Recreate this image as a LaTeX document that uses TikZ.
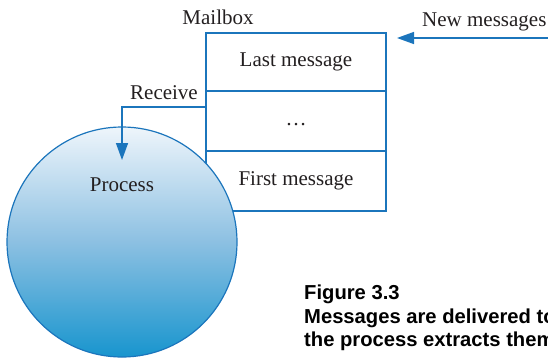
\documentclass[tikz,border=0pt]{standalone}
\usepackage{fontspec}
\setmainfont{Liberation Serif}
\newfontfamily\capfont{Liberation Sans}
\usetikzlibrary{arrows.meta}
\definecolor{lineblue}{HTML}{1B75BC}
\definecolor{toptint}{HTML}{EEF5FB}
\definecolor{midtint}{HTML}{8CC0E2}
\definecolor{bottint}{HTML}{1895CE}
\definecolor{ink}{HTML}{231F20}
\tikzset{
  cell/.style={draw=lineblue, fill=white, line width=1.4pt, minimum width=180pt, inner sep=0pt, text=ink, font=\fontsize{21}{24}\selectfont},
  lbl/.style={text=ink, inner sep=0pt, font=\fontsize{21}{24}\selectfont},
  conn/.style={draw=lineblue, line width=1.5pt, -{Triangle[length=17pt,width=12pt]}},
  caption/.style={text=black, inner sep=0pt, align=left, font=\capfont\bfseries\fontsize{20.2}{23.5}\selectfont}
}
\begin{document}
\begin{tikzpicture}[x=1pt,y=-1pt]
\useasboundingbox (0,0) rectangle (548,359);
\clip (0,0) rectangle (548,359);
% mailbox
\node[cell, minimum height=58pt] (last) at (296,62) {\raisebox{-2pt}{Last message}};
\node[cell, minimum height=60pt] (dots) at (296,121) {\raisebox{-9pt}{\dots}};
\node[cell, minimum height=60pt] (first) at (296,181) {\raisebox{-1pt}{First message}};
\node[lbl] (mailbox) at (218,17) {Mailbox};
% process circle (in front of the mailbox)
\node[circle, draw=lineblue, line width=1.2pt, minimum size=230pt, inner sep=0pt,
      top color=toptint, bottom color=bottint, middle color=midtint] (proc) at (122,242) {};
\node[lbl] (proclbl) at (122,185) {Process};
% receive
\node[lbl, anchor=east] (recv) at (198,93) {Receive};
\coordinate (recvtip) at (122,160);
\draw[conn] ([yshift=14pt]dots.west) -| (recvtip);
% new messages
\coordinate (nmstart) at (552,38);
\coordinate (nmtip) at (397,38);
\draw[conn] (nmstart) -- (nmtip);
\node[lbl, anchor=west] (newmsg) at (422,22) {New messages};
% caption
\node[caption, anchor=north west] (cap) at (304,285) {Figure 3.3\\Messages are delivered to\\the process extracts them};
\end{tikzpicture}
\end{document}
